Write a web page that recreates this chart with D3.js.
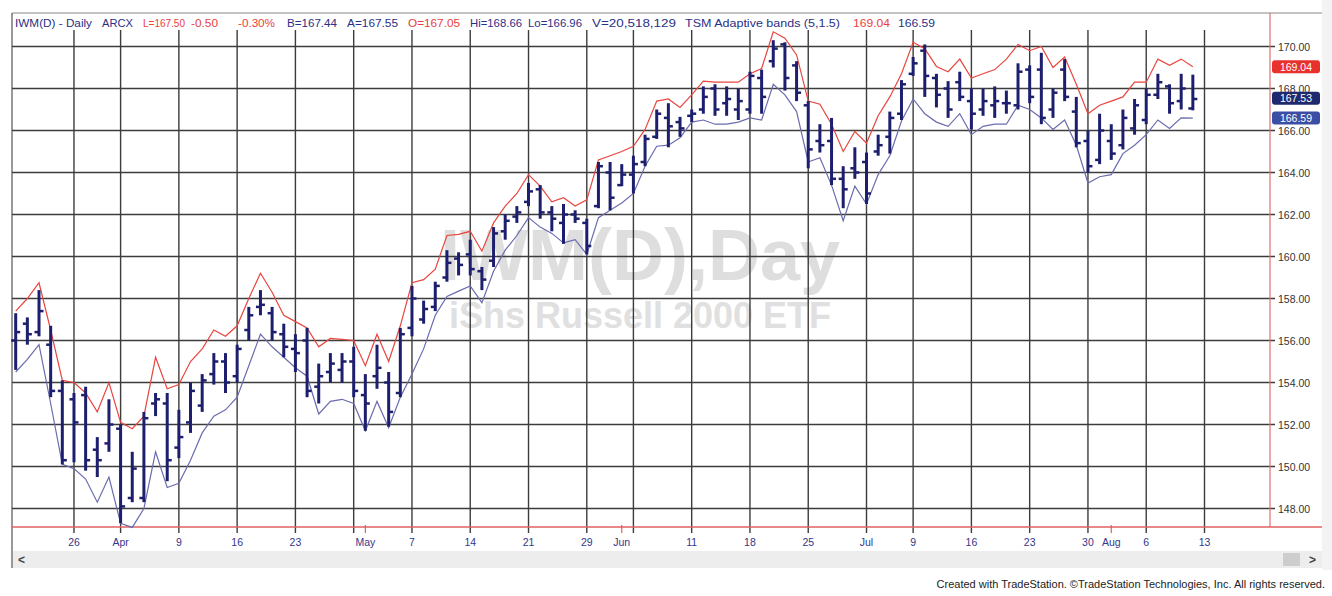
<!DOCTYPE html>
<html><head><meta charset="utf-8">
<script src="https://cdn.jsdelivr.net/npm/d3@7"></script>
<style>body{margin:0;background:#fff}svg{display:block;font-family:"Liberation Sans",Arial,sans-serif}</style>
</head><body><svg id="c" width="1332" height="596"></svg>
<script>
// ---- data (IWM daily, Mar 19 – Aug 10, 2018), index = trading-day number ----
const openP  = [156.0,156.8,156.4,155.8,153.6,153.2,153.4,150.8,151.1,151.8,148.5,148.5,153.0,153.0,150.9,152.1,152.9,154.4,155.0,154.3,156.5,157.6,157.3,156.3,155.6,156.0,153.8,154.5,154.6,155.0,153.4,154.3,154.0,153.5,156.6,157.0,157.6,159.0,159.9,160.1,159.3,159.8,161.2,161.9,162.6,163.2,162.1,161.6,162.0,161.6,162.4,164.0,163.4,163.9,164.5,165.7,166.6,166.4,166.7,167.0,168.0,167.3,167.0,167.0,168.5,169.3,170.1,169.1,167.2,165.5,165.5,163.7,164.2,164.5,165.0,165.7,166.8,168.7,169.8,168.5,168.0,168.3,167.4,167.0,167.2,167.3,167.2,168.9,168.9,167.0,168.9,166.9,165.5,164.6,165.5,165.3,166.1,166.5,167.7,168.1,167.4,167.05];
const highP  = [157.3,157.1,158.4,156.7,154.1,153.5,153.8,151.4,153.2,152.0,150.7,152.6,153.5,153.5,152.7,154.0,154.4,155.4,155.4,155.8,157.6,158.4,157.6,156.8,156.3,156.6,154.9,155.4,155.4,155.7,154.4,155.8,154.5,156.6,158.6,157.9,158.8,160.3,160.2,160.8,159.5,161.4,162.0,162.4,163.5,163.4,162.4,162.5,162.2,161.8,164.5,164.5,164.4,164.8,165.8,167.0,167.3,166.65,167.0,168.1,168.2,168.1,168.0,168.8,168.9,170.3,170.2,169.3,167.4,166.3,166.6,164.3,165.2,164.95,165.8,166.9,168.4,169.5,170.1,168.7,168.35,168.8,168.0,168.0,168.1,167.9,169.2,169.1,169.7,168.0,169.4,167.6,166.0,166.8,166.3,167.0,167.5,168.0,168.7,168.2,168.7,168.66];
const lowP   = [154.6,155.8,156.2,153.3,150.1,150.2,149.8,149.5,150.7,147.3,148.3,148.3,152.4,149.3,150.4,151.6,152.6,153.9,153.5,154.0,156.0,157.2,156.0,155.2,154.5,153.3,153.0,154.0,154.0,153.3,151.7,153.7,151.9,153.3,156.2,156.8,157.4,158.8,159.1,159.1,158.4,159.5,160.8,161.6,162.4,161.8,161.2,160.6,161.6,160.1,162.3,162.2,163.35,163.0,164.3,165.6,165.2,165.7,166.4,166.8,166.7,166.7,166.5,166.8,166.8,169.0,167.9,167.4,164.2,164.95,163.4,162.3,163.7,162.5,164.8,164.9,166.5,168.6,167.6,167.1,166.6,167.4,166.05,166.7,166.6,166.8,167.0,167.3,166.3,166.6,167.4,165.2,164.0,164.4,164.6,165.1,165.8,166.3,167.5,166.8,167.0,166.96];
const closeP = [156.4,156.3,157.4,153.6,150.3,152.1,150.3,150.3,152.0,148.1,149.9,152.3,153.2,150.3,151.4,153.6,154.1,155.0,154.0,155.6,157.2,157.7,156.4,155.7,155.4,153.6,154.3,154.9,155.0,153.6,153.0,154.7,152.6,156.3,158.0,157.5,158.6,159.7,159.6,159.4,158.9,161.1,161.7,162.1,163.1,162.1,161.8,162.0,161.8,160.5,164.3,162.8,163.9,164.4,165.6,166.8,166.2,166.1,166.8,167.6,167.0,167.5,167.4,168.6,167.6,169.9,168.5,167.8,165.1,165.3,163.7,163.2,164.0,163.0,165.3,166.6,168.2,169.2,168.6,167.7,167.0,167.6,166.8,167.4,167.4,167.3,168.8,167.6,166.6,167.8,167.6,165.4,164.3,166.0,164.9,166.6,167.2,167.7,168.3,167.3,168.0,167.50];
const upperBand = [157.4,158.0,158.75,156.5,154.1,154.0,153.5,152.6,154.0,152.1,151.8,152.4,155.2,153.7,153.9,155.0,155.6,156.5,156.2,156.7,158.0,159.2,158.3,157.2,156.9,156.6,155.7,156.1,156.05,156.0,154.8,156.3,155.0,156.7,158.75,158.9,159.4,161.0,161.05,161.2,160.25,161.6,162.4,163.0,163.9,163.35,162.6,162.8,162.4,162.7,164.6,164.8,165.0,165.25,166.05,167.4,167.5,167.1,167.7,168.35,168.3,168.3,168.3,168.7,168.95,170.7,170.4,169.6,167.4,167.25,166.3,165.0,165.95,165.4,166.7,167.6,168.7,170.2,169.9,169.05,168.8,169.4,168.5,168.7,168.9,169.4,170.1,169.8,170.0,169.0,169.5,168.2,166.8,167.2,167.4,167.6,168.3,168.3,169.4,169.1,169.4,169.04];
const lowerBand = [154.5,155.1,155.8,153.0,150.1,149.9,149.4,148.3,149.5,147.3,147.1,148.0,150.7,149.0,149.2,150.3,151.6,152.4,152.7,153.3,154.8,156.3,155.7,155.2,154.7,154.3,152.5,153.1,153.2,153.0,151.7,153.1,151.85,153.3,154.4,155.6,157.2,158.1,158.35,158.6,157.8,159.3,160.3,161.0,161.85,161.4,161.1,160.65,160.8,160.1,161.85,162.2,162.55,163.0,164.3,165.25,165.3,165.65,166.4,166.5,166.3,166.3,166.4,166.6,166.5,168.2,167.7,166.9,164.5,164.7,163.4,161.7,163.35,162.5,163.9,164.8,166.45,167.5,166.8,166.4,166.2,166.8,165.8,166.2,166.3,166.3,167.2,167.0,166.6,166.05,166.5,165.3,163.5,163.8,163.9,164.9,165.3,165.8,166.5,166.1,166.6,166.59];
const dateLabels   = ["26","Apr","9","16","23","May","7","14","21","29","Jun","11","18","25","Jul","9","16","23","30","Aug","6","13"];
const dateLabelIdx = [5,9,14,19,24,30,34,39,44,49,52,58,63,68,73,77,82,87,92,94,97,102];
const weekStartIdx = [5,9,14,19,24,29,34,39,44,49,53,58,63,68,73,77,82,87,92,97,102];
const monthStartIdx = [30,52,94];
const yTicks = [148,150,152,154,156,158,160,162,164,166,168,170];
const lastValues = [169.04,167.53,166.59];
const headerParts = ["IWM(D) - Daily","ARCX","L=167.50","-0.50","-0.30%","B=167.44","A=167.55","O=167.05","Hi=168.66","Lo=166.96","V=20,518,129","TSM Adaptive bands (5,1.5)","169.04","166.59"];
const headerRed   = [false,false,true,true,true,false,false,true,false,false,false,false,true,false];

const svg = d3.select("#c");
const L=12, R=1270, T=13, B=527, RE=1322;
const x = d3.scaleLinear().domain([0,102]).range([15.7,1204.5]);
const y = d3.scaleLinear().domain([148,170]).range([508.5,46.5]);
const gridCol="#3c3c3c", navy="#1d1f6e";

svg.append("rect").attr("x",RE).attr("y",0).attr("width",1332-RE).attr("height",570).attr("fill","#f3f3f3");
// watermark
svg.append("text").attr("x",640).attr("y",280).attr("text-anchor","middle")
  .attr("font-size",72).attr("font-weight","bold").attr("fill","#dedede").text("IWM(D),Day");
svg.append("text").attr("x",640).attr("y",328).attr("text-anchor","middle")
  .attr("font-size",36).attr("font-weight","bold").attr("fill","#e0e0e0").text("iShs Russell 2000 ETF");

// frame
svg.append("line").attr("x1",L).attr("x2",RE).attr("y1",T).attr("y2",T).attr("stroke","#888").attr("stroke-width",1.2);
svg.append("line").attr("x1",L).attr("x2",L).attr("y1",T).attr("y2",568).attr("stroke","#555").attr("stroke-width",1.2);

// grid
svg.append("g").selectAll("line").data(yTicks).join("line")
  .attr("x1",L).attr("x2",R+5).attr("y1",d=>y(d)).attr("y2",d=>y(d))
  .attr("stroke",gridCol).attr("stroke-width",1.4);
svg.append("g").selectAll("line").data(weekStartIdx).join("line")
  .attr("x1",d=>x(d)).attr("x2",d=>x(d)).attr("y1",30).attr("y2",B+6)
  .attr("stroke",gridCol).attr("stroke-width",1.4);

// axes lines
svg.append("line").attr("x1",R).attr("x2",R).attr("y1",T).attr("y2",B).attr("stroke","#e07070").attr("stroke-width",1.2);
svg.append("line").attr("x1",L).attr("x2",RE).attr("y1",B).attr("y2",B).attr("stroke","#e06060").attr("stroke-width",1.4);
svg.append("g").selectAll("line").data(monthStartIdx).join("line")
  .attr("x1",d=>x(d)).attr("x2",d=>x(d)).attr("y1",B-2).attr("y2",B+6).attr("stroke","#e06060").attr("stroke-width",1.2);

// y labels
svg.append("g").selectAll("text").data(yTicks).join("text")
  .attr("x",R+8).attr("y",d=>y(d)+4).attr("font-size",10.5).attr("fill","#333")
  .text(d=>d.toFixed(2));

// bands
const line = d3.line().x((d,i)=>x(i)).y(d=>y(d));
svg.append("path").attr("d",line(upperBand)).attr("fill","none").attr("stroke","#e8463f").attr("stroke-width",1.2);
svg.append("path").attr("d",line(lowerBand)).attr("fill","none").attr("stroke","#6a6cae").attr("stroke-width",1.2);

// OHLC bars
const bars = svg.append("g").selectAll("g").data(d3.range(openP.length)).join("g");
bars.append("line").attr("x1",i=>x(i)).attr("x2",i=>x(i)).attr("y1",i=>y(highP[i])).attr("y2",i=>y(lowP[i]))
  .attr("stroke",navy).attr("stroke-width",3);
bars.append("line").attr("x1",i=>x(i)-4.5).attr("x2",i=>x(i)).attr("y1",i=>y(openP[i])).attr("y2",i=>y(openP[i]))
  .attr("stroke",navy).attr("stroke-width",2.5);
bars.append("line").attr("x1",i=>x(i)).attr("x2",i=>x(i)+4.5).attr("y1",i=>y(closeP[i])).attr("y2",i=>y(closeP[i]))
  .attr("stroke",navy).attr("stroke-width",2.5);

// last value boxes
const boxCols=["#e8312c","#1f2a6e","#3a4fa3"];
const boxes = svg.append("g").selectAll("g").data(lastValues).join("g");
boxes.append("rect").attr("x",R+2).attr("y",d=>y(d)-6.5).attr("width",48).attr("height",13).attr("rx",3)
  .attr("fill",(d,i)=>boxCols[i]);
boxes.append("text").attr("x",R+26).attr("y",d=>y(d)+4).attr("text-anchor","middle")
  .attr("font-size",10.5).attr("fill","#fff").text(d=>d.toFixed(2));

// header (positions / widths are layout, not data)
const hdrX = [15,102,143,191,238,287,347,408,470,528,592,685,853,898];
const hdrW = [77,31,42,27,37,50,51,52,52,54,84,155,37,37];
svg.append("g").selectAll("text").data(headerParts).join("text")
  .attr("x",(d,i)=>hdrX[i]).attr("y",27).attr("font-size",11)
  .attr("textLength",(d,i)=>hdrW[i]).attr("lengthAdjust","spacingAndGlyphs")
  .attr("fill",(d,i)=>headerRed[i]?"#e8413c":"#2b2f86").text(d=>d);

// date labels
svg.append("g").selectAll("text").data(dateLabels).join("text")
  .attr("x",(d,i)=>x(dateLabelIdx[i])).attr("y",546).attr("text-anchor","middle")
  .attr("font-size",10.5).attr("fill","#34368c").text(d=>d);

// scrollbar
svg.append("rect").attr("x",L+1).attr("y",551).attr("width",RE-L-1).attr("height",17).attr("fill","#ededed");
svg.append("rect").attr("x",1283).attr("y",553).attr("width",17).attr("height",13).attr("fill","#cdcdcd");
svg.append("text").attr("x",18).attr("y",564).attr("font-size",12).attr("font-weight","bold").attr("fill","#444").text("<");
svg.append("text").attr("x",1309).attr("y",564).attr("font-size",12).attr("font-weight","bold").attr("fill","#444").text(">");

// footer
svg.append("text").attr("x",1325).attr("y",588).attr("text-anchor","end").attr("font-size",11).attr("fill","#222")
  .text("Created with TradeStation. \u00A9TradeStation Technologies, Inc. All rights reserved.");
</script></body></html>
